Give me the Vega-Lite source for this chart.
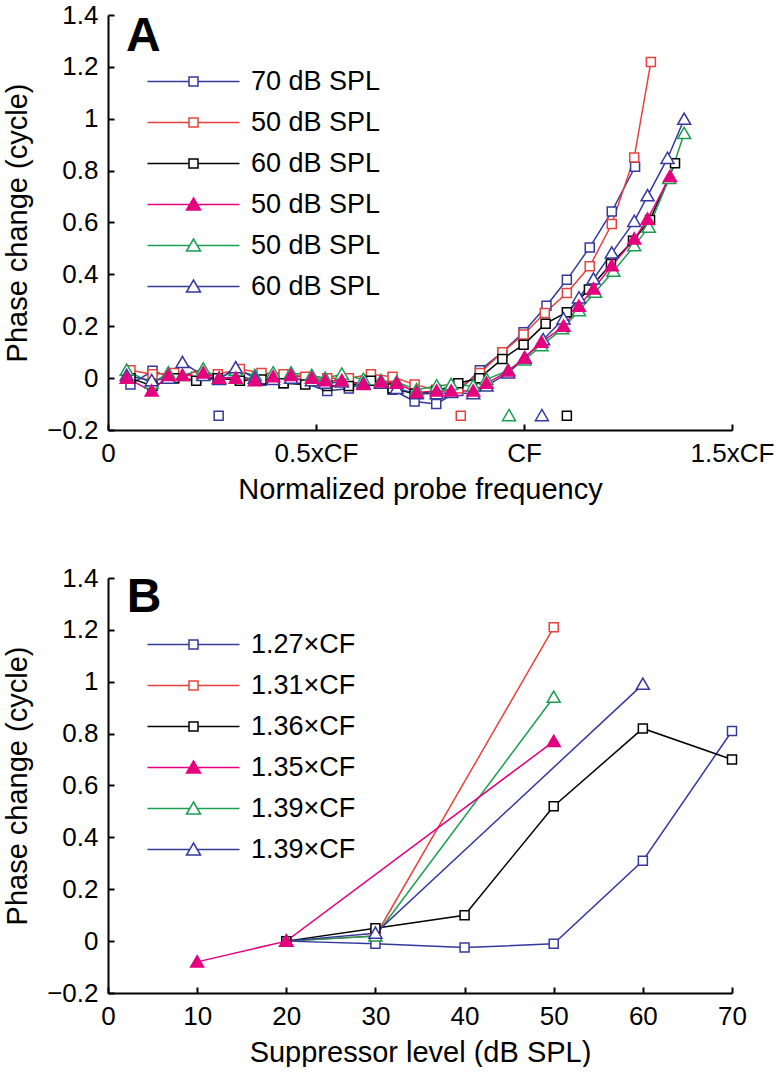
{
  "$schema": "https://vega.github.io/schema/vega-lite/v6.json",
  "background": "white",
  "padding": {"left": 3, "top": 2, "right": 0, "bottom": 0},
  "spacing": 61,
  "config": {
    "view": {"stroke": null},
    "font": "Liberation Sans",
    "axis": {
      "grid": false,
      "domainColor": "black",
      "domainWidth": 2,
      "tickColor": "black",
      "tickWidth": 2,
      "tickSize": -6,
      "labelFont": "Liberation Sans",
      "labelFontSize": 26,
      "labelColor": "black",
      "labelFlush": false,
      "labelOverlap": false,
      "labelPadding": 16,
      "titleFont": "Liberation Sans",
      "titleFontSize": 29,
      "titleFontWeight": "normal",
      "titleColor": "black"
    },
    "axisX": {"titlePadding": 9},
    "axisY": {"titlePadding": 14}
  },
  "datasets": {
    "A": [
      {"series": "1|70 dB SPL", "freq": 0.054, "phase": -0.025},
      {"series": "1|70 dB SPL", "freq": 0.107, "phase": 0.028},
      {"series": "1|70 dB SPL", "freq": 0.159, "phase": 0.0},
      {"series": "1|70 dB SPL", "freq": 0.212, "phase": -0.005},
      {"series": "1|70 dB SPL", "freq": 0.264, "phase": 0.0},
      {"series": "1|70 dB SPL", "freq": 0.317, "phase": 0.005},
      {"series": "1|70 dB SPL", "freq": 0.369, "phase": -0.01},
      {"series": "1|70 dB SPL", "freq": 0.422, "phase": -0.02},
      {"series": "1|70 dB SPL", "freq": 0.474, "phase": -0.02},
      {"series": "1|70 dB SPL", "freq": 0.527, "phase": -0.05},
      {"series": "1|70 dB SPL", "freq": 0.579, "phase": -0.04},
      {"series": "1|70 dB SPL", "freq": 0.632, "phase": -0.01},
      {"series": "1|70 dB SPL", "freq": 0.684, "phase": -0.045},
      {"series": "1|70 dB SPL", "freq": 0.737, "phase": -0.09},
      {"series": "1|70 dB SPL", "freq": 0.789, "phase": -0.1},
      {"series": "1|70 dB SPL", "freq": 0.842, "phase": -0.05},
      {"series": "1|70 dB SPL", "freq": 0.894, "phase": 0.03},
      {"series": "1|70 dB SPL", "freq": 0.948, "phase": 0.1},
      {"series": "1|70 dB SPL", "freq": 0.999, "phase": 0.177},
      {"series": "1|70 dB SPL", "freq": 1.054, "phase": 0.279},
      {"series": "1|70 dB SPL", "freq": 1.103, "phase": 0.379},
      {"series": "1|70 dB SPL", "freq": 1.158, "phase": 0.504},
      {"series": "1|70 dB SPL", "freq": 1.211, "phase": 0.642},
      {"series": "1|70 dB SPL", "freq": 1.267, "phase": 0.815},

      {"series": "2|50 dB SPL", "freq": 0.054, "phase": 0.03},
      {"series": "2|50 dB SPL", "freq": 0.107, "phase": 0.015},
      {"series": "2|50 dB SPL", "freq": 0.159, "phase": 0.02},
      {"series": "2|50 dB SPL", "freq": 0.212, "phase": 0.005},
      {"series": "2|50 dB SPL", "freq": 0.264, "phase": 0.015},
      {"series": "2|50 dB SPL", "freq": 0.317, "phase": 0.035},
      {"series": "2|50 dB SPL", "freq": 0.369, "phase": 0.02},
      {"series": "2|50 dB SPL", "freq": 0.422, "phase": 0.015},
      {"series": "2|50 dB SPL", "freq": 0.474, "phase": 0.005},
      {"series": "2|50 dB SPL", "freq": 0.527, "phase": 0.0},
      {"series": "2|50 dB SPL", "freq": 0.579, "phase": 0.0},
      {"series": "2|50 dB SPL", "freq": 0.632, "phase": 0.015},
      {"series": "2|50 dB SPL", "freq": 0.684, "phase": 0.005},
      {"series": "2|50 dB SPL", "freq": 0.737, "phase": -0.025},
      {"series": "2|50 dB SPL", "freq": 0.789, "phase": -0.045},
      {"series": "2|50 dB SPL", "freq": 0.842, "phase": -0.04},
      {"series": "2|50 dB SPL", "freq": 0.894, "phase": 0.02},
      {"series": "2|50 dB SPL", "freq": 0.948, "phase": 0.1},
      {"series": "2|50 dB SPL", "freq": 0.999, "phase": 0.168},
      {"series": "2|50 dB SPL", "freq": 1.05, "phase": 0.251},
      {"series": "2|50 dB SPL", "freq": 1.103, "phase": 0.328},
      {"series": "2|50 dB SPL", "freq": 1.158, "phase": 0.431},
      {"series": "2|50 dB SPL", "freq": 1.211, "phase": 0.594},
      {"series": "2|50 dB SPL", "freq": 1.265, "phase": 0.851},
      {"series": "2|50 dB SPL", "freq": 1.305, "phase": 1.219},

      {"series": "3|60 dB SPL", "freq": 0.054, "phase": 0.0},
      {"series": "3|60 dB SPL", "freq": 0.107, "phase": -0.03},
      {"series": "3|60 dB SPL", "freq": 0.159, "phase": 0.0},
      {"series": "3|60 dB SPL", "freq": 0.212, "phase": -0.01},
      {"series": "3|60 dB SPL", "freq": 0.264, "phase": 0.0},
      {"series": "3|60 dB SPL", "freq": 0.317, "phase": -0.01},
      {"series": "3|60 dB SPL", "freq": 0.369, "phase": -0.005},
      {"series": "3|60 dB SPL", "freq": 0.422, "phase": -0.02},
      {"series": "3|60 dB SPL", "freq": 0.474, "phase": -0.025},
      {"series": "3|60 dB SPL", "freq": 0.527, "phase": -0.03},
      {"series": "3|60 dB SPL", "freq": 0.579, "phase": -0.03},
      {"series": "3|60 dB SPL", "freq": 0.632, "phase": -0.01},
      {"series": "3|60 dB SPL", "freq": 0.684, "phase": -0.04},
      {"series": "3|60 dB SPL", "freq": 0.737, "phase": -0.06},
      {"series": "3|60 dB SPL", "freq": 0.789, "phase": -0.05},
      {"series": "3|60 dB SPL", "freq": 0.842, "phase": -0.02},
      {"series": "3|60 dB SPL", "freq": 0.893, "phase": 0.0},
      {"series": "3|60 dB SPL", "freq": 0.948, "phase": 0.074},
      {"series": "3|60 dB SPL", "freq": 0.999, "phase": 0.129},
      {"series": "3|60 dB SPL", "freq": 1.052, "phase": 0.21},
      {"series": "3|60 dB SPL", "freq": 1.103, "phase": 0.254},
      {"series": "3|60 dB SPL", "freq": 1.156, "phase": 0.342},
      {"series": "3|60 dB SPL", "freq": 1.209, "phase": 0.44},
      {"series": "3|60 dB SPL", "freq": 1.262, "phase": 0.53},
      {"series": "3|60 dB SPL", "freq": 1.303, "phase": 0.61},
      {"series": "3|60 dB SPL", "freq": 1.363, "phase": 0.828},

      {"series": "5|50 dB SPL", "freq": 0.045, "phase": 0.03},
      {"series": "5|50 dB SPL", "freq": 0.105, "phase": -0.02},
      {"series": "5|50 dB SPL", "freq": 0.145, "phase": 0.02},
      {"series": "5|50 dB SPL", "freq": 0.179, "phase": 0.01},
      {"series": "5|50 dB SPL", "freq": 0.229, "phase": 0.035},
      {"series": "5|50 dB SPL", "freq": 0.267, "phase": 0.0},
      {"series": "5|50 dB SPL", "freq": 0.307, "phase": 0.03},
      {"series": "5|50 dB SPL", "freq": 0.353, "phase": 0.01},
      {"series": "5|50 dB SPL", "freq": 0.397, "phase": 0.02},
      {"series": "5|50 dB SPL", "freq": 0.44, "phase": 0.02},
      {"series": "5|50 dB SPL", "freq": 0.49, "phase": 0.01},
      {"series": "5|50 dB SPL", "freq": 0.522, "phase": 0.0},
      {"series": "5|50 dB SPL", "freq": 0.562, "phase": 0.015},
      {"series": "5|50 dB SPL", "freq": 0.614, "phase": -0.005},
      {"series": "5|50 dB SPL", "freq": 0.656, "phase": -0.01},
      {"series": "5|50 dB SPL", "freq": 0.694, "phase": -0.015},
      {"series": "5|50 dB SPL", "freq": 0.742, "phase": -0.045},
      {"series": "5|50 dB SPL", "freq": 0.79, "phase": -0.03},
      {"series": "5|50 dB SPL", "freq": 0.825, "phase": -0.025},
      {"series": "5|50 dB SPL", "freq": 0.878, "phase": -0.03},
      {"series": "5|50 dB SPL", "freq": 0.91, "phase": -0.005},
      {"series": "5|50 dB SPL", "freq": 0.962, "phase": 0.03},
      {"series": "5|50 dB SPL", "freq": 1.001, "phase": 0.07},
      {"series": "5|50 dB SPL", "freq": 1.042, "phase": 0.125},
      {"series": "5|50 dB SPL", "freq": 1.092, "phase": 0.19},
      {"series": "5|50 dB SPL", "freq": 1.132, "phase": 0.26},
      {"series": "5|50 dB SPL", "freq": 1.171, "phase": 0.331},
      {"series": "5|50 dB SPL", "freq": 1.215, "phase": 0.412},
      {"series": "5|50 dB SPL", "freq": 1.265, "phase": 0.51},
      {"series": "5|50 dB SPL", "freq": 1.3, "phase": 0.582},
      {"series": "5|50 dB SPL", "freq": 1.349, "phase": 0.77},
      {"series": "5|50 dB SPL", "freq": 1.385, "phase": 0.943},

      {"series": "6|60 dB SPL", "freq": 0.045, "phase": 0.01},
      {"series": "6|60 dB SPL", "freq": 0.105, "phase": -0.01},
      {"series": "6|60 dB SPL", "freq": 0.145, "phase": 0.0},
      {"series": "6|60 dB SPL", "freq": 0.179, "phase": 0.06},
      {"series": "6|60 dB SPL", "freq": 0.229, "phase": 0.01},
      {"series": "6|60 dB SPL", "freq": 0.267, "phase": -0.005},
      {"series": "6|60 dB SPL", "freq": 0.307, "phase": 0.04},
      {"series": "6|60 dB SPL", "freq": 0.353, "phase": 0.0},
      {"series": "6|60 dB SPL", "freq": 0.397, "phase": -0.005},
      {"series": "6|60 dB SPL", "freq": 0.44, "phase": 0.0},
      {"series": "6|60 dB SPL", "freq": 0.49, "phase": -0.01},
      {"series": "6|60 dB SPL", "freq": 0.522, "phase": -0.02},
      {"series": "6|60 dB SPL", "freq": 0.562, "phase": -0.015},
      {"series": "6|60 dB SPL", "freq": 0.614, "phase": -0.02},
      {"series": "6|60 dB SPL", "freq": 0.656, "phase": -0.02},
      {"series": "6|60 dB SPL", "freq": 0.694, "phase": -0.04},
      {"series": "6|60 dB SPL", "freq": 0.742, "phase": -0.06},
      {"series": "6|60 dB SPL", "freq": 0.79, "phase": -0.06},
      {"series": "6|60 dB SPL", "freq": 0.825, "phase": -0.055},
      {"series": "6|60 dB SPL", "freq": 0.878, "phase": -0.06},
      {"series": "6|60 dB SPL", "freq": 0.91, "phase": -0.03},
      {"series": "6|60 dB SPL", "freq": 0.962, "phase": 0.02},
      {"series": "6|60 dB SPL", "freq": 1.002, "phase": 0.078},
      {"series": "6|60 dB SPL", "freq": 1.046, "phase": 0.148},
      {"series": "6|60 dB SPL", "freq": 1.095, "phase": 0.228},
      {"series": "6|60 dB SPL", "freq": 1.132, "phase": 0.309},
      {"series": "6|60 dB SPL", "freq": 1.167, "phase": 0.382},
      {"series": "6|60 dB SPL", "freq": 1.211, "phase": 0.482},
      {"series": "6|60 dB SPL", "freq": 1.265, "phase": 0.604},
      {"series": "6|60 dB SPL", "freq": 1.297, "phase": 0.703},
      {"series": "6|60 dB SPL", "freq": 1.345, "phase": 0.847},
      {"series": "6|60 dB SPL", "freq": 1.385, "phase": 0.998},

      {"series": "4|50 dB SPL", "freq": 0.045, "phase": 0.0},
      {"series": "4|50 dB SPL", "freq": 0.105, "phase": -0.05},
      {"series": "4|50 dB SPL", "freq": 0.145, "phase": 0.01},
      {"series": "4|50 dB SPL", "freq": 0.179, "phase": 0.01},
      {"series": "4|50 dB SPL", "freq": 0.229, "phase": 0.02},
      {"series": "4|50 dB SPL", "freq": 0.267, "phase": 0.0},
      {"series": "4|50 dB SPL", "freq": 0.307, "phase": 0.0},
      {"series": "4|50 dB SPL", "freq": 0.353, "phase": -0.01},
      {"series": "4|50 dB SPL", "freq": 0.397, "phase": 0.005},
      {"series": "4|50 dB SPL", "freq": 0.44, "phase": 0.01},
      {"series": "4|50 dB SPL", "freq": 0.49, "phase": 0.0},
      {"series": "4|50 dB SPL", "freq": 0.522, "phase": -0.01},
      {"series": "4|50 dB SPL", "freq": 0.562, "phase": -0.01},
      {"series": "4|50 dB SPL", "freq": 0.614, "phase": -0.025},
      {"series": "4|50 dB SPL", "freq": 0.656, "phase": -0.015},
      {"series": "4|50 dB SPL", "freq": 0.694, "phase": -0.02},
      {"series": "4|50 dB SPL", "freq": 0.742, "phase": -0.055},
      {"series": "4|50 dB SPL", "freq": 0.79, "phase": -0.05},
      {"series": "4|50 dB SPL", "freq": 0.825, "phase": -0.05},
      {"series": "4|50 dB SPL", "freq": 0.878, "phase": -0.05},
      {"series": "4|50 dB SPL", "freq": 0.91, "phase": -0.02},
      {"series": "4|50 dB SPL", "freq": 0.962, "phase": 0.027},
      {"series": "4|50 dB SPL", "freq": 1.001, "phase": 0.078},
      {"series": "4|50 dB SPL", "freq": 1.042, "phase": 0.138},
      {"series": "4|50 dB SPL", "freq": 1.095, "phase": 0.2},
      {"series": "4|50 dB SPL", "freq": 1.132, "phase": 0.277},
      {"series": "4|50 dB SPL", "freq": 1.167, "phase": 0.344},
      {"series": "4|50 dB SPL", "freq": 1.211, "phase": 0.433},
      {"series": "4|50 dB SPL", "freq": 1.265, "phase": 0.536},
      {"series": "4|50 dB SPL", "freq": 1.297, "phase": 0.613},
      {"series": "4|50 dB SPL", "freq": 1.351, "phase": 0.777}
    ],
    "Amark": [
      {"series": "1|70 dB SPL", "freq": 0.266, "phase": -0.145},
      {"series": "2|50 dB SPL", "freq": 0.848, "phase": -0.145},
      {"series": "5|50 dB SPL", "freq": 0.964, "phase": -0.145},
      {"series": "6|60 dB SPL", "freq": 1.043, "phase": -0.145},
      {"series": "3|60 dB SPL", "freq": 1.103, "phase": -0.145}
    ],
    "B": [
      {"series": "1|1.27×CF", "level": 20, "phase": 0.0},
      {"series": "1|1.27×CF", "level": 30, "phase": -0.01},
      {"series": "1|1.27×CF", "level": 40, "phase": -0.025},
      {"series": "1|1.27×CF", "level": 50, "phase": -0.01},
      {"series": "1|1.27×CF", "level": 60, "phase": 0.31},
      {"series": "1|1.27×CF", "level": 70, "phase": 0.81},
      {"series": "2|1.31×CF", "level": 20, "phase": 0.0},
      {"series": "2|1.31×CF", "level": 30, "phase": 0.02},
      {"series": "2|1.31×CF", "level": 50, "phase": 1.21},
      {"series": "3|1.36×CF", "level": 20, "phase": 0.0},
      {"series": "3|1.36×CF", "level": 30, "phase": 0.05},
      {"series": "3|1.36×CF", "level": 40, "phase": 0.1},
      {"series": "3|1.36×CF", "level": 50, "phase": 0.52},
      {"series": "3|1.36×CF", "level": 60, "phase": 0.82},
      {"series": "3|1.36×CF", "level": 70, "phase": 0.7},
      {"series": "5|1.39×CF", "level": 20, "phase": 0.0},
      {"series": "5|1.39×CF", "level": 30, "phase": 0.02},
      {"series": "5|1.39×CF", "level": 50, "phase": 0.94},
      {"series": "6|1.39×CF", "level": 20, "phase": 0.0},
      {"series": "6|1.39×CF", "level": 30, "phase": 0.03},
      {"series": "6|1.39×CF", "level": 60, "phase": 0.99},
      {"series": "4|1.35×CF", "level": 10, "phase": -0.08},
      {"series": "4|1.35×CF", "level": 20, "phase": 0.0},
      {"series": "4|1.35×CF", "level": 50, "phase": 0.77}
    ]
  },
  "vconcat": [
    {
      "width": 624,
      "height": 415,
      "resolve": {"scale": {"shape": "independent", "stroke": "independent", "fill": "independent"}},
      "layer": [
        {
          "data": {"name": "A"},
          "mark": {"type": "line", "strokeWidth": 1.5},
          "encoding": {
            "x": {"field": "freq", "type": "quantitative", "scale": {"domain": [0, 1.5], "nice": false, "zero": false},
                  "axis": {"values": [0, 0.5, 1, 1.5], "labelExpr": "datum.value == 0 ? '0' : datum.value == 0.5 ? '0.5xCF' : datum.value == 1 ? 'CF' : '1.5xCF'", "title": "Normalized probe frequency"}},
            "y": {"field": "phase", "type": "quantitative", "scale": {"domain": [-0.2, 1.4], "nice": false, "zero": false},
                  "axis": {"values": [-0.2, 0, 0.2, 0.4, 0.6, 0.8, 1, 1.2, 1.4], "format": "~g", "title": "Phase change (cycle)"}},
            "stroke": {"field": "series", "type": "nominal", "legend": null,
              "scale": {"domain": ["1|70 dB SPL", "2|50 dB SPL", "3|60 dB SPL", "4|50 dB SPL", "5|50 dB SPL", "6|60 dB SPL"], "range": ["#34399B", "#E8413C", "#000000", "#E5007E", "#1A9E50", "#34399B"]}}
          }
        },
        {
          "data": {"name": "A"},
          "mark": {"type": "point", "strokeWidth": 1.5, "size": 100, "opacity": 1},
          "encoding": {
            "x": {"field": "freq", "type": "quantitative"},
            "y": {"field": "phase", "type": "quantitative"},
            "stroke": {"field": "series", "type": "nominal", "legend": null,
              "scale": {"domain": ["1|70 dB SPL", "2|50 dB SPL", "3|60 dB SPL", "4|50 dB SPL", "5|50 dB SPL", "6|60 dB SPL"], "range": ["#34399B", "#E8413C", "#000000", "#E5007E", "#1A9E50", "#34399B"]}},
            "fill": {"field": "series", "type": "nominal", "legend": null,
              "scale": {"domain": ["1|70 dB SPL", "2|50 dB SPL", "3|60 dB SPL", "4|50 dB SPL", "5|50 dB SPL", "6|60 dB SPL"], "range": ["white", "white", "white", "#E5007E", "white", "white"]}},
            "shape": {"field": "series", "type": "nominal", "legend": null,
              "scale": {"domain": ["1|70 dB SPL", "2|50 dB SPL", "3|60 dB SPL", "4|50 dB SPL", "5|50 dB SPL", "6|60 dB SPL"], "range": ["M-0.9,-0.9H0.9V0.9H-0.9Z", "M-0.9,-0.9H0.9V0.9H-0.9Z", "M-0.9,-0.9H0.9V0.9H-0.9Z", "M0,-1.25L1.3,1L-1.3,1Z", "M0,-1.25L1.3,1L-1.3,1Z", "M0,-1.25L1.3,1L-1.3,1Z"]}}
          }
        },
        {
          "data": {"name": "Amark"},
          "mark": {"type": "point", "strokeWidth": 1.5, "size": 100, "opacity": 1},
          "encoding": {
            "x": {"field": "freq", "type": "quantitative"},
            "y": {"field": "phase", "type": "quantitative"},
            "stroke": {"field": "series", "type": "nominal", "legend": null,
              "scale": {"domain": ["1|70 dB SPL", "2|50 dB SPL", "3|60 dB SPL", "4|50 dB SPL", "5|50 dB SPL", "6|60 dB SPL"], "range": ["#34399B", "#E8413C", "#000000", "#E5007E", "#1A9E50", "#34399B"]}},
            "fill": {"field": "series", "type": "nominal", "legend": null,
              "scale": {"domain": ["1|70 dB SPL", "2|50 dB SPL", "3|60 dB SPL", "4|50 dB SPL", "5|50 dB SPL", "6|60 dB SPL"], "range": ["white", "white", "white", "#E5007E", "white", "white"]}},
            "shape": {"field": "series", "type": "nominal", "legend": null,
              "scale": {"domain": ["1|70 dB SPL", "2|50 dB SPL", "3|60 dB SPL", "4|50 dB SPL", "5|50 dB SPL", "6|60 dB SPL"], "range": ["M-0.9,-0.9H0.9V0.9H-0.9Z", "M-0.9,-0.9H0.9V0.9H-0.9Z", "M-0.9,-0.9H0.9V0.9H-0.9Z", "M0,-1.25L1.3,1L-1.3,1Z", "M0,-1.25L1.3,1L-1.3,1Z", "M0,-1.25L1.3,1L-1.3,1Z"]}}
          }
        },
        {
          "data": {"name": "A"},
          "transform": [{"filter": "false"}],
          "mark": {"type": "point", "strokeWidth": 1.5, "size": 100, "opacity": 1},
          "encoding": {
            "x": {"field": "freq", "type": "quantitative"},
            "y": {"field": "phase", "type": "quantitative"},
            "stroke": {"field": "series", "type": "nominal",
              "scale": {"domain": ["1|70 dB SPL", "2|50 dB SPL", "3|60 dB SPL", "4|50 dB SPL", "5|50 dB SPL", "6|60 dB SPL"], "range": ["#34399B", "#E8413C", "#000000", "#E5007E", "#1A9E50", "#34399B"]}},
            "fill": {"field": "series", "type": "nominal",
              "scale": {"domain": ["1|70 dB SPL", "2|50 dB SPL", "3|60 dB SPL", "4|50 dB SPL", "5|50 dB SPL", "6|60 dB SPL"], "range": ["white", "white", "white", "#E5007E", "white", "white"]}},
            "shape": {"field": "series", "type": "nominal",
              "scale": {"domain": ["1|70 dB SPL", "2|50 dB SPL", "3|60 dB SPL", "4|50 dB SPL", "5|50 dB SPL", "6|60 dB SPL"], "range": ["M-9.2,0H-0.9M0.9,0H9.2M-0.9,-0.9H0.9V0.9H-0.9Z", "M-9.2,0H-0.9M0.9,0H9.2M-0.9,-0.9H0.9V0.9H-0.9Z", "M-9.2,0H-0.9M0.9,0H9.2M-0.9,-0.9H0.9V0.9H-0.9Z", "M-9.2,0H-0.76M0.76,0H9.2M0,-1.3L1.4,1.1L-1.4,1.1Z", "M-9.2,0H-0.76M0.76,0H9.2M0,-1.3L1.4,1.1L-1.4,1.1Z", "M-9.2,0H-0.76M0.76,0H9.2M0,-1.3L1.4,1.1L-1.4,1.1Z"]},
              "legend": {"orient": "none", "legendX": 72, "legendY": 53, "title": null, "labelFont": "Liberation Sans", "labelFontSize": 27, "labelColor": "black", "symbolSize": 100, "symbolStrokeWidth": 1.5, "labelOffset": 44, "rowPadding": 13, "labelExpr": "substring(datum.value, 2)"}}
          }
        },
        {
          "data": {"values": [{"panel": "A"}]},
          "mark": {"type": "text", "font": "Liberation Sans", "fontSize": 48, "fontWeight": "bold", "align": "left", "baseline": "alphabetic", "color": "black"},
          "encoding": {
            "text": {"field": "panel", "type": "nominal"},
            "x": {"datum": 0.043, "type": "quantitative"},
            "y": {"datum": 1.261, "type": "quantitative"}
          }
        }
      ]
    },
    {
      "width": 624,
      "height": 415,
      "resolve": {"scale": {"shape": "independent", "stroke": "independent", "fill": "independent"}},
      "layer": [
        {
          "data": {"name": "B"},
          "mark": {"type": "line", "strokeWidth": 1.5},
          "encoding": {
            "x": {"field": "level", "type": "quantitative", "scale": {"domain": [0, 70], "nice": false},
                  "axis": {"values": [0, 10, 20, 30, 40, 50, 60, 70], "title": "Suppressor level (dB SPL)"}},
            "y": {"field": "phase", "type": "quantitative", "scale": {"domain": [-0.2, 1.4], "nice": false, "zero": false},
                  "axis": {"values": [-0.2, 0, 0.2, 0.4, 0.6, 0.8, 1, 1.2, 1.4], "format": "~g", "title": "Phase change (cycle)"}},
            "stroke": {"field": "series", "type": "nominal", "legend": null,
              "scale": {"domain": ["1|1.27×CF", "2|1.31×CF", "3|1.36×CF", "4|1.35×CF", "5|1.39×CF", "6|1.39×CF"], "range": ["#34399B", "#E8413C", "#000000", "#E5007E", "#1A9E50", "#34399B"]}}
          }
        },
        {
          "data": {"name": "B"},
          "mark": {"type": "point", "strokeWidth": 1.5, "size": 100, "opacity": 1},
          "encoding": {
            "x": {"field": "level", "type": "quantitative"},
            "y": {"field": "phase", "type": "quantitative"},
            "stroke": {"field": "series", "type": "nominal", "legend": null,
              "scale": {"domain": ["1|1.27×CF", "2|1.31×CF", "3|1.36×CF", "4|1.35×CF", "5|1.39×CF", "6|1.39×CF"], "range": ["#34399B", "#E8413C", "#000000", "#E5007E", "#1A9E50", "#34399B"]}},
            "fill": {"field": "series", "type": "nominal", "legend": null,
              "scale": {"domain": ["1|1.27×CF", "2|1.31×CF", "3|1.36×CF", "4|1.35×CF", "5|1.39×CF", "6|1.39×CF"], "range": ["white", "white", "white", "#E5007E", "white", "white"]}},
            "shape": {"field": "series", "type": "nominal", "legend": null,
              "scale": {"domain": ["1|1.27×CF", "2|1.31×CF", "3|1.36×CF", "4|1.35×CF", "5|1.39×CF", "6|1.39×CF"], "range": ["M-0.9,-0.9H0.9V0.9H-0.9Z", "M-0.9,-0.9H0.9V0.9H-0.9Z", "M-0.9,-0.9H0.9V0.9H-0.9Z", "M0,-1.25L1.3,1L-1.3,1Z", "M0,-1.25L1.3,1L-1.3,1Z", "M0,-1.25L1.3,1L-1.3,1Z"]}}
          }
        },
        {
          "data": {"name": "B"},
          "transform": [{"filter": "false"}],
          "mark": {"type": "point", "strokeWidth": 1.5, "size": 100, "opacity": 1},
          "encoding": {
            "x": {"field": "level", "type": "quantitative"},
            "y": {"field": "phase", "type": "quantitative"},
            "stroke": {"field": "series", "type": "nominal",
              "scale": {"domain": ["1|1.27×CF", "2|1.31×CF", "3|1.36×CF", "4|1.35×CF", "5|1.39×CF", "6|1.39×CF"], "range": ["#34399B", "#E8413C", "#000000", "#E5007E", "#1A9E50", "#34399B"]}},
            "fill": {"field": "series", "type": "nominal",
              "scale": {"domain": ["1|1.27×CF", "2|1.31×CF", "3|1.36×CF", "4|1.35×CF", "5|1.39×CF", "6|1.39×CF"], "range": ["white", "white", "white", "#E5007E", "white", "white"]}},
            "shape": {"field": "series", "type": "nominal",
              "scale": {"domain": ["1|1.27×CF", "2|1.31×CF", "3|1.36×CF", "4|1.35×CF", "5|1.39×CF", "6|1.39×CF"], "range": ["M-9.2,0H-0.9M0.9,0H9.2M-0.9,-0.9H0.9V0.9H-0.9Z", "M-9.2,0H-0.9M0.9,0H9.2M-0.9,-0.9H0.9V0.9H-0.9Z", "M-9.2,0H-0.9M0.9,0H9.2M-0.9,-0.9H0.9V0.9H-0.9Z", "M-9.2,0H-0.76M0.76,0H9.2M0,-1.3L1.4,1.1L-1.4,1.1Z", "M-9.2,0H-0.76M0.76,0H9.2M0,-1.3L1.4,1.1L-1.4,1.1Z", "M-9.2,0H-0.76M0.76,0H9.2M0,-1.3L1.4,1.1L-1.4,1.1Z"]},
              "legend": {"orient": "none", "legendX": 72, "legendY": 53, "title": null, "labelFont": "Liberation Sans", "labelFontSize": 27, "labelColor": "black", "symbolSize": 100, "symbolStrokeWidth": 1.5, "labelOffset": 44, "rowPadding": 13, "labelExpr": "substring(datum.value, 2)"}}
          }
        },
        {
          "data": {"values": [{"panel": "B"}]},
          "mark": {"type": "text", "font": "Liberation Sans", "fontSize": 48, "fontWeight": "bold", "align": "left", "baseline": "alphabetic", "color": "black"},
          "encoding": {
            "text": {"field": "panel", "type": "nominal"},
            "x": {"datum": 2.1, "type": "quantitative"},
            "y": {"datum": 1.269, "type": "quantitative"}
          }
        }
      ]
    }
  ]
}
